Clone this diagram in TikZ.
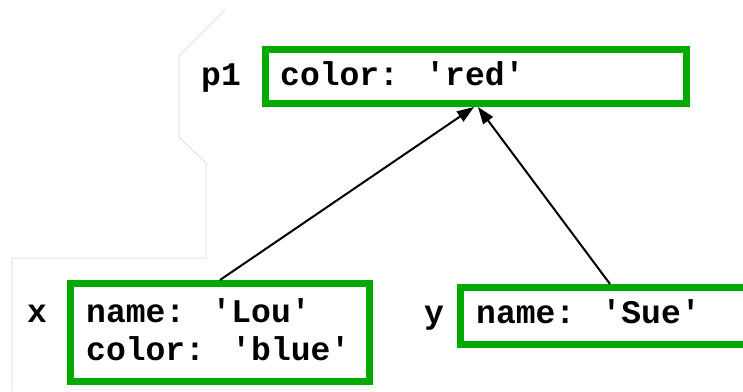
\documentclass[tikz,border=0pt]{standalone}
\usepackage{fontspec}
\newfontfamily\courfont{Liberation Mono}
\definecolor{boxgreen}{RGB}{0,170,0}
\definecolor{faint}{RGB}{224,224,224}
\usetikzlibrary{arrows.meta}
\tikzset{
  objbox/.style={draw=boxgreen, line width=7bp, rectangle, inner sep=0pt},
  codetext/.style={anchor=base west, inner sep=0pt, font=\courfont\bfseries\fontsize{33bp}{38bp}\selectfont},
  ptr/.style={line width=2bp, -{Triangle[length=17bp,width=12bp]}},
  ghost/.style={draw=faint, line width=1bp}
}
\begin{document}
\begin{tikzpicture}[x=1bp,y=-1bp]
\useasboundingbox (0,0) rectangle (743,391);
% faint outlines
\draw[ghost] (225,10) -- (179,56) -- (179,137) -- (206,163) -- (206,258) -- (12,258) -- (12,391);
% boxes
\node[objbox, minimum width=421bp, minimum height=54bp] (p1box) at (476,76.5) {};
\node[objbox, minimum width=299bp, minimum height=98bp] (xbox) at (220,332.5) {};
\node[objbox, minimum width=306bp, minimum height=57bp] (ybox) at (613.5,316) {};
% labels
\node[codetext] (p1lab) at (201,85) {p1};
\node[codetext] (p1t) at (280,85) {color: 'red'};
\node[codetext] (xlab) at (27,322) {x};
\node[codetext] (xt1) at (86,322) {name: 'Lou'};
\node[codetext] (xt2) at (86,360) {color: 'blue'};
\node[codetext] (ylab) at (424,323) {y};
\node[codetext] (yt) at (476,323) {name: 'Sue'};
% pointers
\draw[ptr] ([xshift=153bp]xbox.north west) -- ([xshift=212bp]p1box.south west);
\draw[ptr] ([xshift=153bp]ybox.north west) -- ([xshift=216bp]p1box.south west);
\end{tikzpicture}
\end{document}
